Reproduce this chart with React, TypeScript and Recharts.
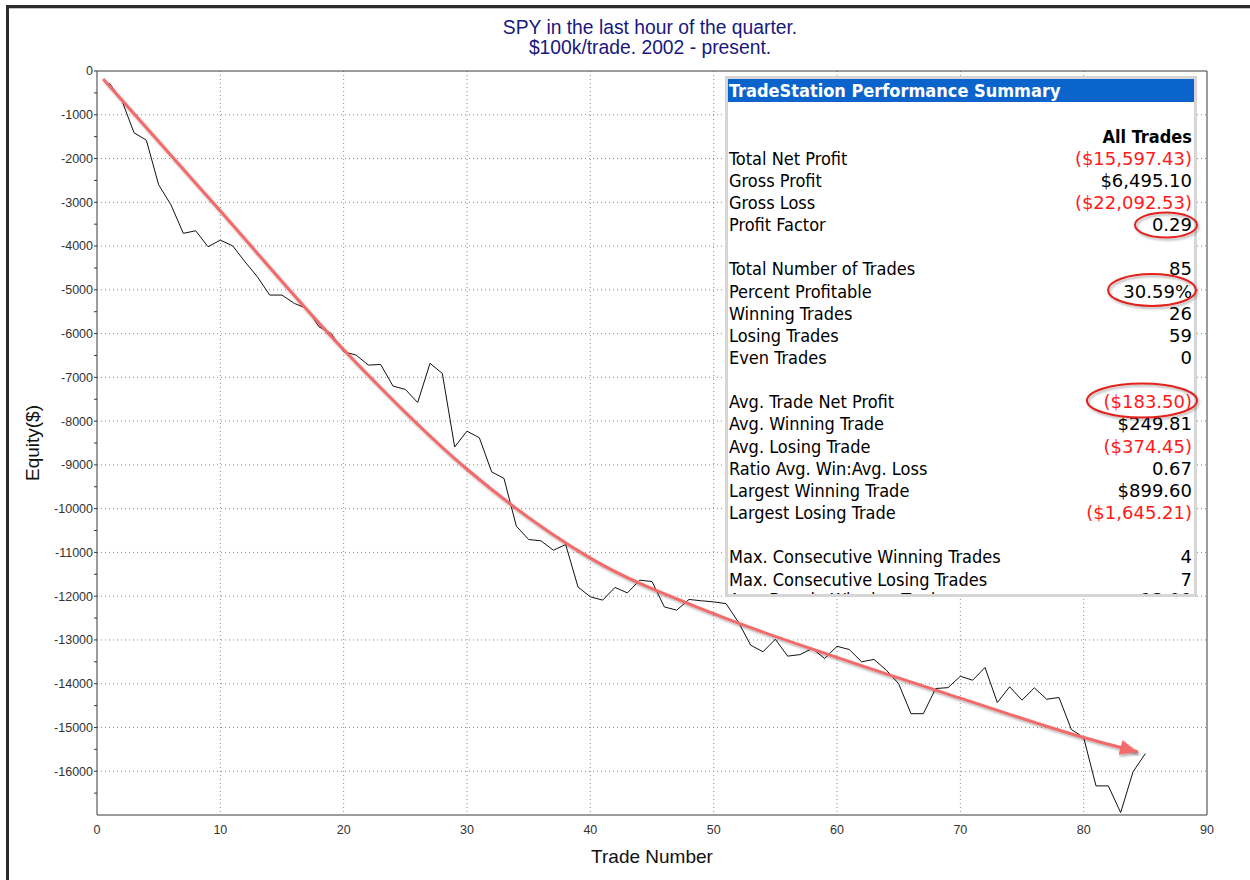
import React from 'react';
import { LineChart, Line, XAxis, YAxis, CartesianGrid } from 'recharts';

// ---- data ----
const tradeNumbers = [
  1, 2, 3, 4, 5, 6, 7, 8, 9, 10, 11, 12, 13, 14, 15, 16, 17, 18, 19, 20,
  21, 22, 23, 24, 25, 26, 27, 28, 29, 30, 31, 32, 33, 34, 35, 36, 37, 38, 39, 40,
  41, 42, 43, 44, 45, 46, 47, 48, 49, 50, 51, 52, 53, 54, 55, 56, 57, 58, 59, 60,
  61, 62, 63, 64, 65, 66, 67, 68, 69, 70, 71, 72, 73, 74, 75, 76, 77, 78, 79, 80,
  81, 82, 83, 84, 85,
];
const equity = [
  -280, -660, -1410, -1580, -2600, -3060, -3710, -3650, -4015, -3865,
  -3995, -4360, -4700, -5120, -5120, -5310, -5425, -5845, -6000, -6415,
  -6490, -6720, -6705, -7200, -7275, -7575, -6680, -6910, -8590, -8230,
  -8380, -9160, -9310, -10400, -10705, -10735, -10950, -10820, -11790, -12015,
  -12090, -11800, -11925, -11635, -11665, -12245, -12320, -12075, -12105, -12130,
  -12170, -12590, -13120, -13270, -12985, -13370, -13335, -13195, -13425, -13145,
  -13220, -13500, -13445, -13690, -14000, -14685, -14685, -14110, -14090, -13830,
  -13920, -13630, -14430, -14070, -14375, -14095, -14355, -14315, -15045, -15230,
  -16335, -16335, -16945, -16015, -15597,
];
const trendX = [0.5, 5, 10, 20, 30, 40, 50, 60, 70, 80, 84.4];
const trendY = [-183, -1610, -3200, -6370, -9100, -11130, -12400, -13400, -14330, -15230, -15560];

const xTicks = [0, 10, 20, 30, 40, 50, 60, 70, 80, 90];
const xMinorTicks = [5, 10, 15, 20, 25, 30, 35, 40, 45, 50, 55, 60, 65, 70, 75, 80, 85];
const yTicks = [
  0, -500, -1000, -1500, -2000, -2500, -3000, -3500, -4000, -4500, -5000, -5500,
  -6000, -6500, -7000, -7500, -8000, -8500, -9000, -9500, -10000, -10500, -11000,
  -11500, -12000, -12500, -13000, -13500, -14000, -14500, -15000, -15500, -16000, -16500,
];
const yGrid = [
  -1000, -2000, -3000, -4000, -5000, -6000, -7000, -8000, -9000, -10000, -11000,
  -12000, -13000, -14000, -15000, -16000,
];
const xGrid = [10, 20, 30, 40, 50, 60, 70, 80];

const titleLines = ['SPY in the last hour of the quarter.', '$100k/trade. 2002 - present.'];

// summary table (row index: 0 = "All Trades" header row)
const summaryLabels = [
  '', 'Total Net Profit', 'Gross Profit', 'Gross Loss', 'Profit Factor', '',
  'Total Number of Trades', 'Percent Profitable', 'Winning Trades', 'Losing Trades', 'Even Trades', '',
  'Avg. Trade Net Profit', 'Avg. Winning Trade', 'Avg. Losing Trade', 'Ratio Avg. Win:Avg. Loss',
  'Largest Winning Trade', 'Largest Losing Trade', '',
  'Max. Consecutive Winning Trades', 'Max. Consecutive Losing Trades', 'Avg. Bars in Winning Trades',
];
const summaryValues = [
  'All Trades', '($15,597.43)', '$6,495.10', '($22,092.53)', '0.29', '',
  '85', '30.59%', '26', '59', '0', '',
  '($183.50)', '$249.81', '($374.45)', '0.67', '$899.60', '($1,645.21)', '',
  '4', '7', '13.00',
];
const summaryRed = [
  false, true, false, true, false, false,
  false, false, false, false, false, false,
  true, false, true, false, false, true, false,
  false, false, false,
];

const RED = '#f26a6a';

const renderArrow = (props: any) => {
  const { cx, cy, index } = props;
  if (index !== trendX.length - 1 || cx == null) return <g key={`d${index}`} />;
  return (
    <polygon
      key="arrowhead"
      points="0,0 -18,-7.5 -18,7.5"
      transform={`translate(${cx},${cy}) rotate(15)`}
      fill={RED}
      filter="url(#softShadow)"
    />
  );
};

const LABEL_FONT = '"DejaVu Sans Condensed", "DejaVu Sans", sans-serif';
const VALUE_FONT = '"DejaVu Sans", sans-serif';

function Summary() {
  const boxLeft = 725;
  const boxTop = 76;
  const border = 3;
  const innerTop = boxTop + border;
  const innerLeft = boxLeft + border;
  return (
    <div
      style={{
        position: 'absolute', left: boxLeft, top: boxTop, width: 472, height: 521,
        border: `${border}px solid #d6d6d6`, boxSizing: 'border-box', background: '#fff',
        overflow: 'hidden', fontFamily: LABEL_FONT, color: '#000',
      }}
    >
      <div
        style={{
          position: 'absolute', left: 0, top: 0, width: 467, height: 23, background: '#0a64cc',
          color: '#fff', fontWeight: 'bold', fontSize: 18, lineHeight: '23px', paddingLeft: 1,
          whiteSpace: 'nowrap',
        }}
      >
        TradeStation Performance Summary
      </div>
      {summaryValues.map((val, i) => {
        const center = 136.5 + i * 22.15 - (i === 21 ? 2 : 0);
        const top = center - 11 - innerTop;
        return (
          <React.Fragment key={i}>
            {summaryLabels[i] ? (
              <div style={{ position: 'absolute', left: 729 - innerLeft, top, height: 22, lineHeight: '22px', fontSize: 18, whiteSpace: 'nowrap' }}>
                {summaryLabels[i]}
              </div>
            ) : null}
            {val ? (
              <div
                style={{
                  position: 'absolute', right: 2, top, height: 22, lineHeight: '22px',
                  fontSize: 18, whiteSpace: 'nowrap', textAlign: 'right',
                  fontFamily: i === 0 ? LABEL_FONT : VALUE_FONT,
                  color: summaryRed[i] ? '#ff1a1a' : '#000', fontWeight: i === 0 ? 'bold' : 'normal',
                }}
              >
                {val}
              </div>
            ) : null}
            {summaryRed[i] && (i === 1 || i === 3) ? (
              <div style={{ position: 'absolute', left: 1193 - innerLeft, top, height: 22, lineHeight: '22px', fontSize: 18, fontFamily: VALUE_FONT, color: '#ff1a1a' }}>(</div>
            ) : null}
          </React.Fragment>
        );
      })}
    </div>
  );
}

export default function App() {
  const lineData = equity.map((v, i) => ({ x: tradeNumbers[i], y: v }));
  const trendData = trendY.map((v, i) => ({ x: trendX[i], y: v }));
  const axisColor = '#3a3a3a';
  return (
    <div
      style={{
        position: 'absolute', left: 0, top: 0, width: 1250, height: 880, background: '#fff',
        overflow: 'hidden', fontFamily: '"Liberation Sans", Arial, sans-serif',
      }}
    >
      <svg width={0} height={0} style={{ position: 'absolute' }}>
        <defs>
          <filter id="softShadow" x="-20%" y="-20%" width="140%" height="160%">
            <feDropShadow dx="1.5" dy="2" stdDeviation="1.3" floodColor="#000" floodOpacity="0.3" />
          </filter>
        </defs>
      </svg>
      <div style={{ position: 'absolute', left: 6, top: 5, right: -10, bottom: -10, borderTop: '3px solid #2b2b2b', borderLeft: '3px solid #2b2b2b' }} />
      <div style={{ position: 'absolute', left: 9, top: 8, right: 0, height: 1, background: '#c4c4c4' }} />

      {titleLines.map((t, i) => (
        <div
          key={t}
          style={{
            position: 'absolute', left: 350, width: 600, top: 18 + i * 20, height: 20, lineHeight: '20px',
            textAlign: 'center', fontSize: 19.3, color: '#18187c', whiteSpace: 'nowrap',
          }}
        >
          {t}
        </div>
      ))}

      <div style={{ position: 'absolute', left: 0, top: 0 }}>
        <LineChart width={1250} height={880} margin={{ top: 63, right: 41, bottom: 35, left: 17 }}>
          <CartesianGrid
            horizontalValues={yGrid}
            verticalValues={xGrid}
            stroke="#8c8c8c"
            strokeDasharray="1 3"
          />
          <XAxis
            type="number"
            dataKey="x"
            domain={[0, 90]}
            ticks={xTicks}
            interval={0}
            allowDataOverflow
            height={30}
            tickLine={false}
            tickSize={0}
            tickMargin={10}
            axisLine={{ stroke: axisColor }}
            tick={{ fill: '#333', fontSize: 12.5 }}
          />
          <XAxis
            xAxisId="top"
            orientation="top"
            type="number"
            domain={[0, 90]}
            ticks={xMinorTicks}
            interval={0}
            allowDataOverflow
            height={8}
            tick={false}
            tickSize={3}
            tickLine={{ stroke: axisColor }}
            axisLine={{ stroke: axisColor }}
          />
          <YAxis
            type="number"
            domain={[-17000, 0]}
            ticks={yTicks}
            interval={0}
            allowDataOverflow
            width={80}
            tickSize={3}
            tickMargin={1}
            tickFormatter={(v: number) => (v % 1000 === 0 ? String(v) : '')}
            tickLine={{ stroke: axisColor }}
            axisLine={{ stroke: axisColor }}
            tick={{ fill: '#333', fontSize: 12.5 }}
          />
          <YAxis
            yAxisId="right"
            orientation="right"
            type="number"
            domain={[-17000, 0]}
            allowDataOverflow
            width={2}
            tick={false}
            tickLine={false}
            axisLine={{ stroke: axisColor }}
          />
          <Line
            data={lineData}
            dataKey="y"
            type="linear"
            stroke="#111"
            strokeWidth={1}
            dot={false}
            activeDot={false}
            isAnimationActive={false}
          />
          <Line
            data={trendData}
            dataKey="y"
            type="monotone"
            stroke={RED}
            strokeWidth={3}
            dot={renderArrow}
            activeDot={false}
            filter="url(#softShadow)"
            isAnimationActive={false}
          />
        </LineChart>
      </div>

      <div
        style={{
          position: 'absolute', left: 652 - 100, width: 200, top: 847, height: 20, lineHeight: '20px',
          textAlign: 'center', fontSize: 19, color: '#111',
        }}
      >
        Trade Number
      </div>
      <div
        style={{
          position: 'absolute', left: 33 - 100, width: 200, top: 443 - 10, height: 20, lineHeight: '20px',
          textAlign: 'center', fontSize: 19, color: '#111', transform: 'rotate(-90deg)',
        }}
      >
        Equity($)
      </div>

      <Summary />

      <svg width={1250} height={880} style={{ position: 'absolute', left: 0, top: 0, pointerEvents: 'none' }}>
        <g fill="none" stroke="#e3201d" strokeWidth={2} filter="url(#softShadow)">
          <ellipse cx={1166} cy={225} rx={31} ry={12.5} />
          <ellipse cx={1152} cy={290} rx={44} ry={16} />
          <ellipse cx={1142} cy={400.5} rx={55} ry={17} />
        </g>
      </svg>
    </div>
  );
}
